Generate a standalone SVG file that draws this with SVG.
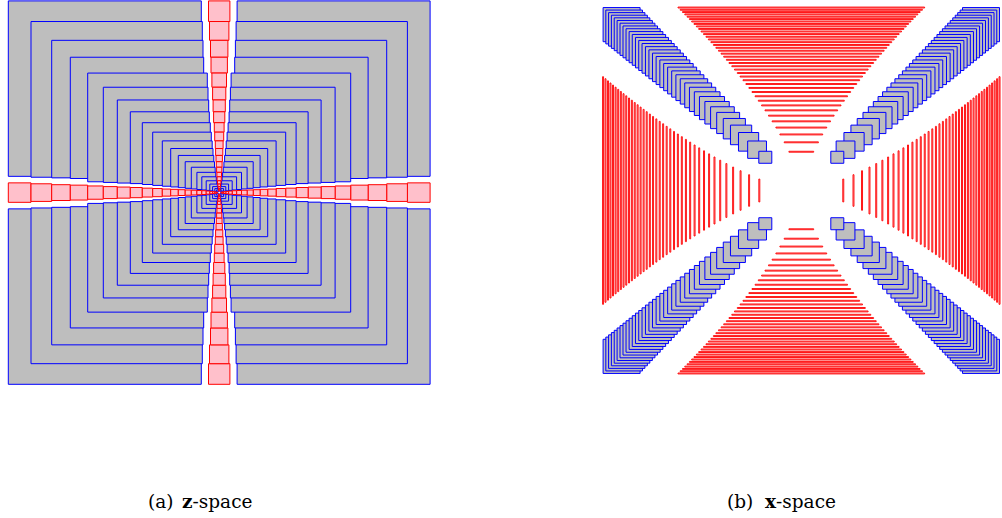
<svg xmlns="http://www.w3.org/2000/svg" xmlns:xlink="http://www.w3.org/1999/xlink" width="1002" height="518" viewBox="0 0 1002 518">
<style>
.g{fill:#bebebe;stroke:#0000ff;stroke-width:1;vector-effect:non-scaling-stroke}
.r{fill:#ffc0cb;stroke:#ff0000;stroke-width:1;vector-effect:non-scaling-stroke}
.l{fill:#ffc0cb;stroke:#ff0000;stroke-width:0.9;vector-effect:non-scaling-stroke}
.cap{font-family:"DejaVu Serif","Liberation Serif",serif;font-size:18.5px;fill:#000}
</style>
<defs>
<g id="qa">
<rect class="g" x="-210.9" y="-210.9" width="193" height="193"/>
<rect class="g" x="-188.2" y="-188.2" width="171.3" height="171.3"/>
<rect class="g" x="-167.5" y="-167.5" width="151.3" height="151.3"/>
<rect class="g" x="-148.9" y="-148.9" width="133.4" height="133.4"/>
<rect class="g" x="-131.5" y="-131.5" width="119.6" height="119.6"/>
<rect class="g" x="-115.9" y="-115.9" width="104.7" height="104.7"/>
<rect class="g" x="-101.9" y="-101.9" width="91.4" height="91.4"/>
<rect class="g" x="-88.9" y="-88.9" width="79" height="79"/>
<rect class="g" x="-76.9" y="-76.9" width="68" height="68"/>
<rect class="g" x="-66.5" y="-66.5" width="58.6" height="58.6"/>
<rect class="g" x="-56.9" y="-56.9" width="49.9" height="49.9"/>
<rect class="g" x="-48.5" y="-48.5" width="42.3" height="42.3"/>
<rect class="g" x="-40.9" y="-40.9" width="35.5" height="35.5"/>
<rect class="g" x="-34" y="-34" width="29.3" height="29.3"/>
<rect class="g" x="-27.9" y="-27.9" width="23.9" height="23.9"/>
<rect class="g" x="-22.3" y="-22.3" width="18.9" height="18.9"/>
<rect class="g" x="-17.4" y="-17.4" width="14.5" height="14.5"/>
<rect class="g" x="-13" y="-13" width="10.6" height="10.6"/>
<rect class="g" x="-9.4" y="-9.4" width="7.5" height="7.5"/>
<rect class="g" x="-6.6" y="-6.6" width="5.1" height="5.1"/>
<rect class="g" x="-4.4" y="-4.4" width="3.3" height="3.3"/>
<rect class="g" x="-2.8" y="-2.8" width="2" height="2"/>
</g>
<g id="ra">
<rect class="r" x="-10.7" y="-210.9" width="21.4" height="22.7"/>
<rect class="r" x="-9.7" y="-188.2" width="19.4" height="20.7"/>
<rect class="r" x="-8.7" y="-167.5" width="17.4" height="18.6"/>
<rect class="r" x="-8.2" y="-148.9" width="16.4" height="17.4"/>
<rect class="r" x="-7.3" y="-131.5" width="14.6" height="15.6"/>
<rect class="r" x="-6.6" y="-115.9" width="13.2" height="14"/>
<rect class="r" x="-6.1" y="-101.9" width="12.2" height="13"/>
<rect class="r" x="-5.6" y="-88.9" width="11.2" height="12"/>
<rect class="r" x="-4.9" y="-76.9" width="9.8" height="10.4"/>
<rect class="r" x="-4.5" y="-66.5" width="9" height="9.6"/>
<rect class="r" x="-3.9" y="-56.9" width="7.8" height="8.4"/>
<rect class="r" x="-3.6" y="-48.5" width="7.2" height="7.6"/>
<rect class="r" x="-3.2" y="-40.9" width="6.4" height="6.9"/>
<rect class="r" x="-2.9" y="-34" width="5.8" height="6.1"/>
<rect class="r" x="-2.6" y="-27.9" width="5.2" height="5.6"/>
<rect class="r" x="-2.3" y="-22.3" width="4.6" height="4.9"/>
<rect class="r" x="-2.1" y="-17.4" width="4.2" height="4.4"/>
<rect class="r" x="-1.7" y="-13" width="3.4" height="3.6"/>
<rect class="r" x="-1.3" y="-9.4" width="2.6" height="2.8"/>
<rect class="r" x="-1" y="-6.6" width="2" height="2.2"/>
<rect class="r" x="-0.75" y="-4.4" width="1.5" height="1.6"/>
<rect class="r" x="-0.56" y="-2.8" width="1.12" height="1.2"/>
</g>
<g id="qb">
<rect class="g" x="-198.2" y="-198.2" width="37" height="37"/>
<rect class="g" x="-195.48" y="-195.48" width="36.66" height="36.66"/>
<rect class="g" x="-192.72" y="-192.72" width="36.32" height="36.32"/>
<rect class="g" x="-189.92" y="-189.92" width="35.97" height="35.97"/>
<rect class="g" x="-187.08" y="-187.08" width="35.62" height="35.62"/>
<rect class="g" x="-184.2" y="-184.2" width="35.26" height="35.26"/>
<rect class="g" x="-181.27" y="-181.27" width="34.9" height="34.9"/>
<rect class="g" x="-178.29" y="-178.29" width="34.53" height="34.53"/>
<rect class="g" x="-175.26" y="-175.26" width="34.16" height="34.16"/>
<rect class="g" x="-172.18" y="-172.18" width="33.77" height="33.77"/>
<rect class="g" x="-169.04" y="-169.04" width="33.38" height="33.38"/>
<rect class="g" x="-165.84" y="-165.84" width="32.99" height="32.99"/>
<rect class="g" x="-162.58" y="-162.58" width="32.58" height="32.58"/>
<rect class="g" x="-159.26" y="-159.26" width="32.17" height="32.17"/>
<rect class="g" x="-155.86" y="-155.86" width="31.75" height="31.75"/>
<rect class="g" x="-152.38" y="-152.38" width="31.33" height="31.33"/>
<rect class="g" x="-148.83" y="-148.83" width="30.88" height="30.88"/>
<rect class="g" x="-145.19" y="-145.19" width="30.43" height="30.43"/>
<rect class="g" x="-141.45" y="-141.45" width="29.97" height="29.97"/>
<rect class="g" x="-137.62" y="-137.62" width="29.5" height="29.5"/>
<rect class="g" x="-133.67" y="-133.67" width="29.01" height="29.01"/>
<rect class="g" x="-129.6" y="-129.6" width="28.5" height="28.5"/>
<rect class="g" x="-125.4" y="-125.4" width="27.98" height="27.98"/>
<rect class="g" x="-121.06" y="-121.06" width="27.44" height="27.44"/>
<rect class="g" x="-116.55" y="-116.55" width="26.89" height="26.89"/>
<rect class="g" x="-111.86" y="-111.86" width="26.31" height="26.31"/>
<rect class="g" x="-106.97" y="-106.97" width="25.7" height="25.7"/>
<rect class="g" x="-101.84" y="-101.84" width="25.07" height="25.07"/>
<rect class="g" x="-96.44" y="-96.44" width="24.4" height="24.4"/>
<rect class="g" x="-90.72" y="-90.72" width="23.69" height="23.69"/>
<rect class="g" x="-84.61" y="-84.61" width="22.93" height="22.93"/>
<rect class="g" x="-78.03" y="-78.03" width="22.12" height="22.12"/>
<rect class="g" x="-70.84" y="-70.84" width="21.23" height="21.23"/>
<rect class="g" x="-62.83" y="-62.83" width="20.2" height="20.2"/>
<rect class="g" x="-53.63" y="-53.63" width="18.8" height="18.8"/>
<rect class="g" x="-42.5" y="-42.5" width="13" height="13"/>
</g>
<g id="lb">
<rect class="l" x="-123.3" y="-198.74" width="246.6" height="1"/>
<rect class="l" x="-121.1" y="-196.3" width="242.2" height="1"/>
<rect class="l" x="-118.8" y="-193.83" width="237.6" height="1"/>
<rect class="l" x="-116.5" y="-191.32" width="233" height="1"/>
<rect class="l" x="-114.2" y="-188.78" width="228.4" height="1"/>
<rect class="l" x="-111.9" y="-186.21" width="223.8" height="1"/>
<rect class="l" x="-109.6" y="-183.6" width="219.2" height="1"/>
<rect class="l" x="-107.3" y="-180.95" width="214.6" height="1"/>
<rect class="l" x="-104.9" y="-178.26" width="209.8" height="1"/>
<rect class="l" x="-102.6" y="-175.54" width="205.2" height="1"/>
<rect class="l" x="-100.2" y="-172.76" width="200.4" height="1"/>
<rect class="l" x="-97.8" y="-169.95" width="195.6" height="1"/>
<rect class="l" x="-95.3" y="-167.08" width="190.6" height="1"/>
<rect class="l" x="-92.9" y="-164.17" width="185.8" height="1"/>
<rect class="l" x="-90.4" y="-161.2" width="180.8" height="1"/>
<rect class="l" x="-87.9" y="-158.18" width="175.8" height="1"/>
<rect class="l" x="-85.4" y="-155.1" width="170.8" height="1"/>
<rect class="l" x="-82.8" y="-151.95" width="165.6" height="1"/>
<rect class="l" x="-80.2" y="-148.74" width="160.4" height="1"/>
<rect class="l" x="-77.6" y="-145.46" width="155.2" height="1"/>
<rect class="l" x="-74.9" y="-142.1" width="149.8" height="1"/>
<rect class="l" x="-72.3" y="-138.66" width="144.6" height="1"/>
<rect class="l" x="-69.5" y="-135.13" width="139" height="1"/>
<rect class="l" x="-66.8" y="-131.51" width="133.6" height="1"/>
<rect class="l" x="-64" y="-127.78" width="128" height="1"/>
<rect class="l" x="-61.2" y="-123.94" width="122.4" height="1"/>
<rect class="l" x="-58.3" y="-119.98" width="116.6" height="1"/>
<rect class="l" x="-55.4" y="-115.88" width="110.8" height="1"/>
<rect class="l" x="-52.4" y="-111.63" width="104.8" height="1"/>
<rect class="l" x="-49.3" y="-107.21" width="98.6" height="1"/>
<rect class="l" x="-46.2" y="-102.6" width="92.4" height="1"/>
<rect class="l" x="-43" y="-97.77" width="86" height="1"/>
<rect class="l" x="-39.7" y="-92.7" width="79.4" height="1"/>
<rect class="l" x="-36.3" y="-87.32" width="72.6" height="1"/>
<rect class="l" x="-32.8" y="-81.59" width="65.6" height="1"/>
<rect class="l" x="-29.2" y="-75.42" width="58.4" height="1"/>
<rect class="l" x="-25.4" y="-68.69" width="50.8" height="1"/>
<rect class="l" x="-21.4" y="-61.23" width="42.8" height="1"/>
<rect class="l" x="-17.1" y="-52.7" width="34.2" height="1"/>
<rect class="l" x="-12.4" y="-42.48" width="24.8" height="1"/>
</g>
</defs>
<g id="panel-a" transform="translate(219.2,192.6) scale(1,0.909)">
<g id="a-gray">
<use xlink:href="#qa"/>
<use xlink:href="#qa" transform="scale(-1,1)"/>
<use xlink:href="#qa" transform="scale(1,-1)"/>
<use xlink:href="#qa" transform="scale(-1,-1)"/>
</g>
<g id="a-red">
<use xlink:href="#ra"/>
<use xlink:href="#ra" transform="scale(1,-1)"/>
<use xlink:href="#ra" transform="rotate(-90)"/>
<use xlink:href="#ra" transform="rotate(90)"/>
</g>
</g>
<g id="panel-b" transform="translate(801.3,190.5) scale(1,0.923)">
<g id="b-gray">
<use xlink:href="#qb"/>
<use xlink:href="#qb" transform="scale(-1,1)"/>
<use xlink:href="#qb" transform="scale(1,-1)"/>
<use xlink:href="#qb" transform="scale(-1,-1)"/>
</g>
<g id="b-red">
<use xlink:href="#lb"/>
<use xlink:href="#lb" transform="scale(1,-1)"/>
<use xlink:href="#lb" transform="rotate(-90)"/>
<use xlink:href="#lb" transform="rotate(90)"/>
</g>
</g>
<g id="captions">
<text class="cap" y="508"><tspan x="148">(a)</tspan><tspan x="182" font-weight="bold">z</tspan>-space</text>
<text class="cap" y="508"><tspan x="727">(b)</tspan><tspan x="765" font-weight="bold">x</tspan>-space</text>
</g>
</svg>
